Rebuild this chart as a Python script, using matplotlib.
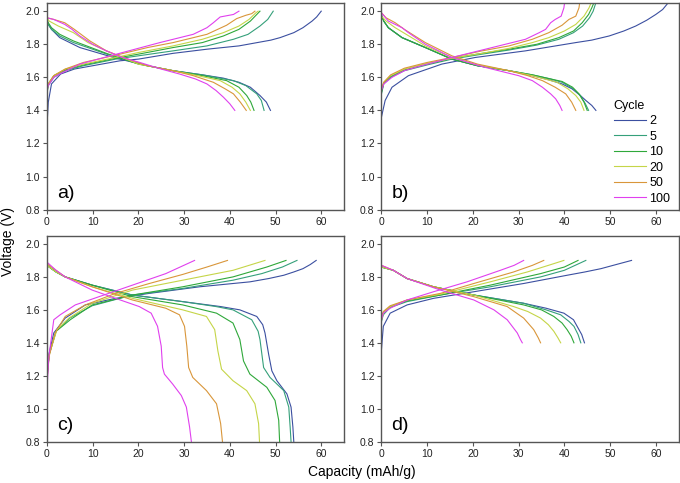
import numpy as np
import matplotlib
matplotlib.use("Agg")
import matplotlib.pyplot as plt

plt.rcParams['font.family'] = ['Liberation Sans', 'DejaVu Sans']

cycles = [2, 5, 10, 20, 50, 100]
colors = ['#3b4fa0', '#35a07a', '#2fa83a', '#c5d548', '#d9963a', '#e040ee']

# (capacity mAh/g, voltage V), one list per cycle in `cycles` order
a_charge = [
    [(0, 1.30), (0.3, 1.45), (1, 1.56), (3, 1.62), (6, 1.65), (10, 1.67), (16, 1.70), (20, 1.71), (27.6, 1.745),
     (35, 1.77), (42, 1.79), (47, 1.815), (49, 1.825), (51, 1.84), (52.5, 1.855), (54, 1.87), (55, 1.885),
     (56, 1.90), (57, 1.92), (58, 1.94), (59, 1.965), (60, 2.0)],
    [(0, 1.50), (0.3, 1.55), (1.5, 1.60), (4, 1.64), (8, 1.67), (15, 1.71), (20, 1.73), (27.6, 1.76), (35, 1.79),
     (40.8, 1.83), (44, 1.86), (46.6, 1.91), (48.3, 1.95), (49.5, 2.0)],
    [(0, 1.51), (0.3, 1.56), (1.5, 1.61), (4, 1.645), (8, 1.675), (15, 1.715), (20, 1.74), (27.6, 1.78), (34, 1.81),
     (38.6, 1.85), (42, 1.89), (44.5, 1.94), (46.6, 2.0)],
    [(0, 1.52), (0.3, 1.56), (1.5, 1.61), (4, 1.65), (8, 1.68), (15, 1.72), (20, 1.75), (27.6, 1.79), (34, 1.83),
     (38.6, 1.87), (42, 1.91), (44.2, 1.95), (45.7, 1.99), (46.2, 2.0)],
    [(0, 1.53), (0.3, 1.56), (1.5, 1.61), (4, 1.65), (8, 1.69), (16, 1.74), (22, 1.78), (27.6, 1.81), (35, 1.86),
     (39.3, 1.915), (41.5, 1.955), (43.5, 1.975), (44.8, 1.985), (45.5, 2.0)],
    [(0, 1.52), (0.3, 1.55), (1.5, 1.60), (2.8, 1.62), (7.2, 1.68), (15.2, 1.74), (24.7, 1.81), (32, 1.86),
     (35, 1.90), (36.4, 1.93), (37.9, 1.965), (40.8, 1.98), (42, 2.0)],
]
a_discharge = [
    [(0, 1.95), (0.3, 1.92), (1, 1.89), (2.8, 1.84), (7.2, 1.78), (15.2, 1.715), (22, 1.67), (27.6, 1.64),
     (34, 1.615), (38.6, 1.595), (42, 1.57), (44.5, 1.54), (46.6, 1.49), (48, 1.45), (48.9, 1.40)],
    [(0, 1.95), (0.3, 1.92), (1, 1.89), (2.8, 1.85), (5.8, 1.81), (10, 1.77), (15.2, 1.72), (22, 1.67),
     (27.6, 1.64), (34, 1.615), (40.8, 1.58), (43.5, 1.55), (45.9, 1.50), (46.9, 1.46), (47.5, 1.40)],
    [(0, 1.95), (0.3, 1.93), (1, 1.90), (2.8, 1.86), (5.8, 1.82), (13, 1.745), (20, 1.68), (27.6, 1.64),
     (34, 1.61), (39.3, 1.58), (42, 1.54), (43.7, 1.49), (44.6, 1.45), (45.3, 1.40)],
    [(0, 1.96), (0.5, 1.94), (2.5, 1.91), (5.8, 1.87), (9, 1.81), (13, 1.76), (20, 1.68), (27.6, 1.64),
     (33, 1.61), (37.9, 1.58), (40.5, 1.54), (42.2, 1.50), (43.5, 1.45), (44.5, 1.40)],
    [(0, 1.96), (1.5, 1.95), (3.9, 1.93), (6, 1.89), (9.4, 1.82), (13, 1.76), (16.7, 1.72), (22, 1.67),
     (27.6, 1.64), (32, 1.61), (36.4, 1.57), (39, 1.53), (40.8, 1.50), (42.3, 1.45), (43.6, 1.40)],
    [(0, 1.96), (1.5, 1.95), (3.9, 1.92), (5.5, 1.89), (7.2, 1.85), (10, 1.80), (13, 1.76), (16.5, 1.72),
     (20.3, 1.69), (25, 1.65), (29, 1.62), (32.5, 1.59), (35, 1.56), (37, 1.52), (38.6, 1.48), (40, 1.44),
     (41.1, 1.40)],
]

b_charge = [
    [(0, 1.36), (0.8, 1.46), (2.3, 1.54), (5.9, 1.61), (13.2, 1.68), (20.5, 1.72), (31.5, 1.76), (42.5, 1.81),
     (46, 1.825), (49.8, 1.85), (53, 1.88), (55.6, 1.91), (58, 1.945), (60, 1.98), (61.5, 2.01), (63, 2.06)],
    [(0, 1.50), (0.5, 1.56), (2, 1.60), (5, 1.64), (10, 1.675), (15.4, 1.71), (22, 1.74), (27.9, 1.765),
     (34, 1.795), (38.8, 1.83), (42, 1.87), (44, 1.91), (45.5, 1.96), (46.3, 2.0), (47, 2.06)],
    [(0, 1.51), (0.5, 1.565), (2, 1.605), (5, 1.645), (10, 1.68), (15.4, 1.715), (22, 1.745), (27.9, 1.77),
     (34, 1.80), (38.8, 1.84), (42, 1.88), (43.9, 1.93), (45.3, 1.98), (46, 2.02), (46.6, 2.06)],
    [(0, 1.53), (0.5, 1.57), (2, 1.61), (5, 1.65), (10, 1.685), (15.4, 1.715), (22, 1.745), (27.9, 1.775),
     (33, 1.81), (36.6, 1.84), (40, 1.88), (42.5, 1.92), (44.3, 1.97), (45.4, 2.02), (46, 2.06)],
    [(0, 1.53), (0.5, 1.57), (2, 1.615), (5, 1.655), (10, 1.69), (15.4, 1.72), (22, 1.76), (27.9, 1.79),
     (33, 1.83), (36.6, 1.87), (39.5, 1.915), (41, 1.95), (42.5, 1.97), (43.2, 2.02), (43.4, 2.06)],
    [(0, 1.52), (0.5, 1.56), (2.3, 1.60), (5, 1.64), (7.4, 1.66), (15.4, 1.72), (24.2, 1.78), (31.5, 1.83),
     (34.5, 1.87), (35.9, 1.89), (37, 1.93), (38, 1.95), (39.3, 1.97), (39.9, 2.02), (40.1, 2.06)],
]
b_discharge = [
    [(0, 1.98), (0.5, 1.94), (1.5, 1.90), (4.5, 1.84), (9.6, 1.78), (15.4, 1.71), (21, 1.67), (27.9, 1.64),
     (33, 1.61), (36.6, 1.585), (39.5, 1.56), (41.7, 1.53), (43.5, 1.49), (44.7, 1.46), (46, 1.43), (46.9, 1.40)],
    [(0, 1.97), (0.5, 1.94), (1.5, 1.90), (4.5, 1.84), (9.6, 1.78), (15.4, 1.71), (21, 1.67), (27.9, 1.64),
     (33, 1.615), (37, 1.59), (39.5, 1.57), (42, 1.53), (43.5, 1.49), (44.6, 1.44), (45.3, 1.40)],
    [(0, 1.97), (0.5, 1.94), (1.5, 1.90), (4.5, 1.84), (9.6, 1.78), (15.4, 1.71), (21, 1.67), (27.9, 1.64),
     (33, 1.615), (37, 1.59), (39.5, 1.575), (41.8, 1.54), (43.2, 1.50), (44.3, 1.45), (45, 1.40)],
    [(0, 1.97), (1, 1.94), (3, 1.90), (6, 1.85), (9.6, 1.79), (15.4, 1.72), (21, 1.675), (27.9, 1.64),
     (33, 1.61), (38.4, 1.57), (40.8, 1.53), (42.5, 1.49), (43.6, 1.45), (44.3, 1.40)],
    [(0, 1.99), (1, 1.96), (3, 1.93), (5, 1.89), (9.6, 1.81), (15.4, 1.73), (21, 1.68), (27.9, 1.64),
     (32, 1.61), (35.2, 1.58), (38, 1.54), (40.3, 1.50), (41.6, 1.45), (42.5, 1.40)],
    [(0, 1.99), (1.5, 1.94), (3, 1.92), (4.5, 1.90), (5.9, 1.87), (9.6, 1.80), (15.4, 1.72), (22.7, 1.66),
     (30, 1.61), (33, 1.58), (35.2, 1.54), (37, 1.50), (38.1, 1.47), (39, 1.43), (39.5, 1.40)],
]

c_charge = [
    [(0, 1.17), (0.5, 1.34), (1.5, 1.46), (4, 1.55), (8.4, 1.63), (15, 1.67), (22.4, 1.70), (33.4, 1.74),
     (44.4, 1.77), (48.5, 1.79), (51.8, 1.81), (54, 1.83), (56, 1.85), (57.6, 1.875), (58.9, 1.90)],
    [(0, 1.19), (0.5, 1.33), (2, 1.47), (5, 1.55), (9.9, 1.625), (18.7, 1.69), (29.7, 1.73), (40.7, 1.78),
     (47, 1.82), (51.5, 1.86), (54.7, 1.90)],
    [(0, 1.20), (0.5, 1.33), (2, 1.47), (5.1, 1.54), (9.9, 1.63), (18.7, 1.69), (29.7, 1.74), (40.7, 1.80),
     (48.1, 1.86), (52.3, 1.90)],
    [(0, 1.21), (0.5, 1.33), (2.2, 1.48), (4.8, 1.55), (9.9, 1.64), (18.7, 1.72), (29.7, 1.78), (40.7, 1.84),
     (47.7, 1.90)],
    [(0, 1.17), (0.5, 1.32), (1.8, 1.46), (4, 1.56), (8.4, 1.63), (15, 1.70), (22.4, 1.76), (29.7, 1.815),
     (35, 1.86), (39.5, 1.90)],
    [(0, 1.11), (0.4, 1.31), (1.5, 1.54), (2.9, 1.57), (6.2, 1.63), (11.4, 1.68), (18.7, 1.75), (26, 1.82),
     (32.3, 1.90)],
]
c_discharge = [
    [(0, 1.87), (2, 1.83), (4, 1.80), (9.9, 1.75), (18.7, 1.69), (29.7, 1.65), (38, 1.62), (42.2, 1.60),
     (45.9, 1.56), (47.2, 1.51), (47.7, 1.46), (48.5, 1.33), (49.2, 1.23), (50.3, 1.17), (52.5, 1.09),
     (53.4, 1.01), (53.8, 0.89), (54, 0.80)],
    [(0, 1.87), (2, 1.83), (4, 1.80), (9.9, 1.75), (18.7, 1.69), (29.7, 1.65), (37, 1.62), (40.7, 1.60),
     (44.8, 1.54), (46.2, 1.47), (46.6, 1.42), (47.4, 1.25), (48.8, 1.19), (51.8, 1.11), (52.9, 1.01),
     (53.2, 0.89), (53.4, 0.80)],
    [(0, 1.87), (2, 1.83), (4, 1.80), (9.9, 1.75), (18.7, 1.68), (29.7, 1.63), (37.1, 1.58), (40.7, 1.52),
     (42.2, 1.42), (43, 1.29), (44.4, 1.21), (48.1, 1.13), (49.9, 1.05), (50.7, 0.93), (50.9, 0.80)],
    [(0, 1.87), (2, 1.83), (4, 1.80), (9.9, 1.74), (18.7, 1.67), (29.7, 1.60), (34.9, 1.56), (36.7, 1.48),
     (37.4, 1.35), (38.2, 1.24), (40.7, 1.17), (43.7, 1.11), (45.5, 1.03), (46.3, 0.91), (46.5, 0.80)],
    [(0, 1.88), (2, 1.84), (4, 1.80), (9.9, 1.74), (18.7, 1.66), (26, 1.61), (29, 1.57), (30.1, 1.50),
     (30.6, 1.38), (31, 1.25), (31.9, 1.19), (34.9, 1.11), (37.1, 1.03), (38, 0.91), (38.4, 0.80)],
    [(0, 1.89), (2, 1.84), (4, 1.80), (9.9, 1.72), (15, 1.67), (20.2, 1.62), (22.8, 1.58), (24.2, 1.50),
     (25, 1.38), (25.3, 1.25), (25.7, 1.21), (27.5, 1.15), (29.4, 1.08), (30.5, 1.01), (31.2, 0.89),
     (31.6, 0.80)],
]

d_charge = [
    [(0, 1.36), (0.4, 1.50), (1.9, 1.58), (5.6, 1.63), (11.4, 1.67), (20.2, 1.71), (31.1, 1.76), (40.6, 1.81),
     (44.5, 1.83), (48, 1.85), (50, 1.865), (52, 1.88), (54.7, 1.90)],
    [(0, 1.53), (0.4, 1.57), (1.9, 1.615), (5.6, 1.65), (12.9, 1.69), (23.8, 1.74), (34.8, 1.80), (40, 1.84),
     (44.7, 1.90)],
    [(0, 1.54), (0.4, 1.58), (1.9, 1.62), (5.6, 1.655), (12.9, 1.69), (23.8, 1.75), (34.8, 1.82), (40, 1.86),
     (43, 1.90)],
    [(0, 1.54), (0.4, 1.58), (1.9, 1.62), (5.6, 1.66), (12.9, 1.695), (23.8, 1.77), (31.9, 1.83), (36.5, 1.87),
     (39.9, 1.90)],
    [(0, 1.56), (0.4, 1.59), (1.9, 1.625), (5.6, 1.66), (12.9, 1.70), (20.2, 1.76), (28.9, 1.83), (33, 1.87),
     (35.5, 1.90)],
    [(0, 1.54), (0.4, 1.58), (1.9, 1.61), (5.6, 1.66), (11.4, 1.71), (18.7, 1.77), (26, 1.84), (29, 1.87),
     (31.1, 1.90)],
]
d_discharge = [
    [(0, 1.86), (2.6, 1.84), (5.6, 1.79), (11.4, 1.74), (20.2, 1.69), (31.1, 1.64), (36, 1.61), (39.9, 1.58),
     (42, 1.54), (42.8, 1.50), (43.8, 1.45), (44.4, 1.40)],
    [(0, 1.86), (2.6, 1.84), (5.6, 1.79), (11.4, 1.74), (20.2, 1.69), (31.1, 1.64), (36, 1.60), (39.2, 1.57),
     (41, 1.53), (42.1, 1.50), (43, 1.45), (43.6, 1.40)],
    [(0, 1.86), (2.6, 1.84), (5.6, 1.79), (11.4, 1.74), (20.2, 1.69), (31.1, 1.63), (35, 1.60), (37.7, 1.56),
     (39.5, 1.52), (40.6, 1.48), (41.5, 1.44), (42.1, 1.40)],
    [(0, 1.86), (2.6, 1.84), (5.6, 1.79), (11.4, 1.74), (20.2, 1.69), (28.9, 1.62), (32, 1.59), (34.8, 1.55),
     (36.5, 1.51), (37.7, 1.47), (38.6, 1.43), (39.2, 1.40)],
    [(0, 1.87), (2.6, 1.84), (5.6, 1.79), (11.4, 1.74), (20.2, 1.68), (27.5, 1.62), (31.1, 1.55), (33.3, 1.48),
     (34.3, 1.43), (34.8, 1.40)],
    [(0, 1.87), (2.6, 1.84), (5.6, 1.79), (12.9, 1.72), (20.2, 1.66), (24.6, 1.60), (27.5, 1.54), (29.7, 1.46),
     (30.4, 1.42), (30.8, 1.40)],
]

panels = [
    ('a)', a_charge, a_discharge, [0.069, 0.566, 0.437, 0.428]),
    ('b)', b_charge, b_discharge, [0.561, 0.566, 0.437, 0.428]),
    ('c)', c_charge, c_discharge, [0.069, 0.0855, 0.437, 0.4265]),
    ('d)', d_charge, d_discharge, [0.561, 0.0855, 0.437, 0.4265]),
]

fig = plt.figure(figsize=(6.8, 4.83), dpi=100)
frame = '#555555'

for name, charge, discharge, pos in panels:
    ax = fig.add_axes(pos)
    for i in range(len(cycles)):
        ch = np.array(charge[i])
        dc = np.array(discharge[i])
        ax.plot(ch[:, 0], ch[:, 1], color=colors[i], lw=0.8, label=str(cycles[i]))
        ax.plot(dc[:, 0], dc[:, 1], color=colors[i], lw=0.8)
    ax.set_xlim(0, 65)
    ax.set_ylim(0.8, 2.05)
    ax.set_xticks(np.arange(0, 61, 10))
    ax.set_yticks(np.arange(0.8, 2.01, 0.2))
    ax.set_yticklabels(['%.1f' % v for v in np.arange(0.8, 2.01, 0.2)])
    ax.tick_params(direction='out', length=3, width=0.8, color=frame, labelsize=7.5, pad=2, labelcolor='#222222')
    for s in ax.spines.values():
        s.set_color(frame)
        s.set_linewidth(1.0)
    ax.text(2.2, 0.9, name, fontsize=14, va='center', ha='left')
    if name == 'b)':
        leg = ax.legend(title='Cycle', loc='lower right', bbox_to_anchor=(1.01, -0.03), frameon=False,
                        fontsize=9, title_fontsize=9, handlelength=2.6, handletextpad=0.25,
                        labelspacing=0.28, alignment='left')

fig.text(0.012, 0.5, 'Voltage (V)', rotation=90, va='center', ha='center', fontsize=10)
fig.text(0.532, 0.022, 'Capacity (mAh/g)', va='center', ha='center', fontsize=10)

fig.savefig('out.png', dpi=100)
